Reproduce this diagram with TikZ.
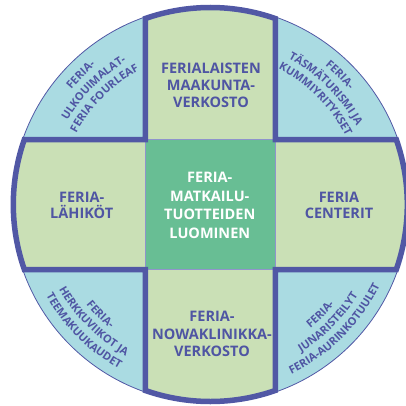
\documentclass[tikz,border=0pt]{standalone}
\usepackage{fontspec}
\setmainfont{Open Sans}
\usetikzlibrary{decorations.text}
\definecolor{bord}{HTML}{5158A5}
\definecolor{lblue}{HTML}{AADBE2}
\definecolor{lgreen}{HTML}{CAE0B6}
\definecolor{dgreen}{HTML}{68BE94}
\definecolor{txt}{HTML}{4F55A3}
\definecolor{thinl}{HTML}{8F94CC}
\newcommand\cfont{\fontsize{11}{13}\selectfont\bfseries}
\begin{document}
\begin{tikzpicture}[x=1pt,y=1pt,
  armtext/.style={text=txt, align=center, inner sep=0pt},
  corner/.style={decorate, decoration={text along path, text align=center, text color=txt}},
  thickline/.style={draw=bord, line width=5.5pt, line join=miter},
  thinline/.style={draw=thinl, line width=0.9pt}]
\useasboundingbox (0,0) rectangle (406,405);
\def\cx{210.3}
\def\cy{200.5}
\coordinate (C) at (\cx,\cy);
% disc (corner quadrants)
\filldraw[fill=lblue, draw=bord, line width=0.8pt] (C) circle[radius=198.5];
% cross fill
\fill[lgreen] (\cx-65,\cy+185.97) arc[start angle=109.266, end angle=70.734, radius=197]
  -- (\cx+65,\cy+65) -- (\cx+185.97,\cy+65) arc[start angle=19.266, end angle=-19.266, radius=197]
  -- (\cx+65,\cy-65) -- (\cx+65,\cy-185.97) arc[start angle=-70.734, end angle=-109.266, radius=197]
  -- (\cx-65,\cy-65) -- (\cx-185.97,\cy-65) arc[start angle=199.266, end angle=160.734, radius=197]
  -- (\cx-65,\cy+65) -- cycle;
% centre square
\fill[dgreen] (\cx-65,\cy-65) rectangle (\cx+65,\cy+65);
\draw[thinline] (\cx-65,\cy-65) rectangle (\cx+65,\cy+65);
% cross outline
\draw[thickline] (\cx-65,\cy+185.97) arc[start angle=109.266, end angle=70.734, radius=197]
  -- (\cx+65,\cy+65) -- (\cx+185.97,\cy+65) arc[start angle=19.266, end angle=-19.266, radius=197]
  -- (\cx+65,\cy-65) -- (\cx+65,\cy-185.97) arc[start angle=-70.734, end angle=-109.266, radius=197]
  -- (\cx-65,\cy-65) -- (\cx-185.97,\cy-65) arc[start angle=199.266, end angle=160.734, radius=197]
  -- (\cx-65,\cy+65) -- cycle;
% arm texts
\node[armtext, font=\fontsize{14.5}{17}\selectfont\bfseries] (top) at (211,320) {FERIALAISTEN\\MAAKUNTA-\\VERKOSTO};
\node[armtext, text=white, font=\fontsize{14.5}{18.7}\selectfont\bfseries] (mid) at (209.8,199.7) {FERIA-\\MATKAILU-\\TUOTTEIDEN\\LUOMINEN};
\node[armtext, font=\fontsize{14.5}{16.6}\selectfont\bfseries] (left) at (81.7,199.5) {FERIA-\\LÄHIKÖT};
\node[armtext, font=\fontsize{14.5}{16.6}\selectfont\bfseries] (right) at (339,199.5) {FERIA\\CENTERIT};
\node[armtext, font=\fontsize{14.5}{17.5}\selectfont\bfseries] (bottom) at (212,70.8) {FERIA-\\NOWAKLINIKKA-\\VERKOSTO};
% corner texts
\path[corner, decoration={text={|\cfont|FERIA-}}] ([shift={(\cx,\cy)}]180:180.1) arc[start angle=180, end angle=90, radius=180.1];
\path[corner, decoration={text={|\cfont|ULKOUIMALAT-}}] ([shift={(\cx,\cy)}]180:165.6) arc[start angle=180, end angle=90, radius=165.6];
\path[corner, decoration={text={|\cfont|FERIA FOURLEAF}}] ([shift={(\cx,\cy)}]180:151.6) arc[start angle=180, end angle=90, radius=151.6];
\path[corner, decoration={text={|\cfont|FERIA-}}] ([shift={(\cx,\cy)}]90:180.1) arc[start angle=90, end angle=0, radius=180.1];
\path[corner, decoration={text={|\cfont|TÄSMÄTURISMI JA}}] ([shift={(\cx,\cy)}]90:165.6) arc[start angle=90, end angle=0, radius=165.6];
\path[corner, decoration={text={|\cfont|KUMMIYRITYKSET}}] ([shift={(\cx,\cy)}]90:151.6) arc[start angle=90, end angle=0, radius=151.6];
\path[corner, decoration={text={|\cfont|FERIA-}}] ([shift={(\cx,\cy)}]180:159.4) arc[start angle=180, end angle=270, radius=159.4];
\path[corner, decoration={text={|\cfont|HERKKUVIIKOT JA}}] ([shift={(\cx,\cy)}]180:173.4) arc[start angle=180, end angle=270, radius=173.4];
\path[corner, decoration={text={|\cfont|TEEMAKUUKAUDET}}] ([shift={(\cx,\cy)}]180:187.9) arc[start angle=180, end angle=270, radius=187.9];
\path[corner, decoration={text={|\cfont|FERIA-}}] ([shift={(\cx,\cy)}]270:159.4) arc[start angle=270, end angle=360, radius=159.4];
\path[corner, decoration={text={|\cfont|JUNARISTEILYT}}] ([shift={(\cx,\cy)}]270:173.4) arc[start angle=270, end angle=360, radius=173.4];
\path[corner, decoration={text={|\cfont|FERIA-AURINKOTUULET}}] ([shift={(\cx,\cy)}]270:187.9) arc[start angle=270, end angle=360, radius=187.9];
\end{tikzpicture}
\end{document}
